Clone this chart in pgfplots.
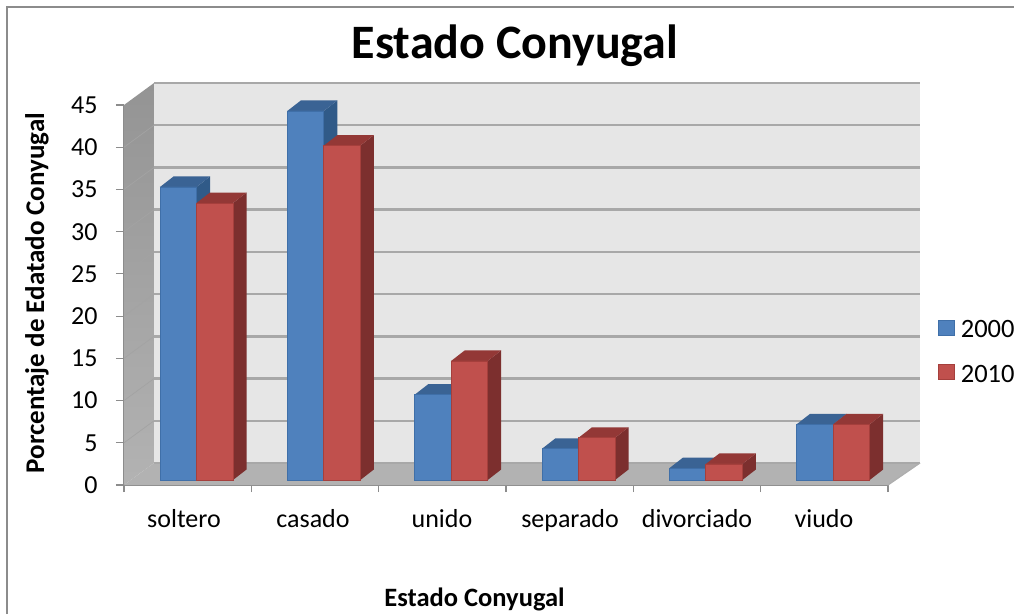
\documentclass[border=0pt]{standalone}
\usepackage{pgfplots}
\pgfplotsset{compat=1.18}
\usepackage{fontspec}
\setmainfont{Carlito}
\definecolor{bluefront}{HTML}{4F81BD}
\definecolor{blueedge}{HTML}{3F6FA8}
\definecolor{bluetop}{HTML}{3A6394}
\definecolor{blueside}{HTML}{305A88}
\definecolor{redfront}{HTML}{C0504D}
\definecolor{rededge}{HTML}{A53F3C}
\definecolor{redtop}{HTML}{933836}
\definecolor{redside}{HTML}{7C2F2E}
\definecolor{wall}{HTML}{E6E6E6}
\definecolor{floorc}{HTML}{B2B2B2}
\definecolor{gridc}{HTML}{A8A8A8}
\definecolor{axisc}{HTML}{8C8C8C}
\newcommand\faces[4]{%
  \pgfmathsetmacro\xb{#1+0.2867}%
  \pgfmathsetmacro\xc{#1+0.2867+0.106}%
  \pgfmathsetmacro\xd{#1+0.106}%
  \pgfmathsetmacro\ya{#2+0.592}%
  \pgfmathsetmacro\yt{#2+0.592+1.243}%
  \addplot[fill=#4,draw=none,forget plot] coordinates {(\xb,0.592)(\xc,1.835)(\xc,\yt)(\xb,\ya)} -- cycle;
  \addplot[fill=#3,draw=none,forget plot] coordinates {(#1,\ya)(\xd,\yt)(\xc,\yt)(\xb,\ya)} -- cycle;
}
\begin{document}
\begin{tikzpicture}[x=1pt,y=1pt]
\useasboundingbox (0,0) rectangle (1014,614);
\draw[axisc,line width=1.2pt] (7,0) -- (7,607) -- (1014,607);
\begin{axis}[
  at={(124pt,129pt)},anchor=south west,
  scale only axis,width=764pt,height=380pt,
  xmin=0,xmax=6,ymin=0,ymax=45,clip=false,
  axis x line*=bottom,axis y line*=left,
  axis line style={axisc,line width=1.2pt,-},
  tick align=outside,
  tick style={axisc,line width=1.2pt},
  ytick={0,5,...,45},
  major tick length=8pt,
  xtick={0.471,1.484,2.497,3.503,4.5,5.497},
  xticklabels={soltero,casado,unido,separado,divorciado,viudo},
  x tick style={draw=none},
  minor xtick={0,1,2,3,4,5,6},
  minor tick length=7pt,
  minor x tick style={draw=axisc,line width=1.2pt},
  /pgf/number format/assume math mode=true,
  tick label style={font=\fontsize{26}{30}\selectfont},
  yticklabel style={xshift=-15pt},
  xticklabel style={yshift=-13pt},
  title={\fontsize{48}{56}\selectfont\bfseries Estado Conyugal},
  title style={at={(axis description cs:0.5118,1.14)},anchor=center},
  xlabel={\fontsize{26.5}{31}\selectfont\bfseries Estado Conyugal},
  xlabel style={at={(axis description cs:0.4588,-0.3)},anchor=center},
  ylabel={\fontsize{27}{32}\selectfont\bfseries Porcentaje de Edatado Conyugal},
  ylabel style={at={(axis description cs:-0.1139,0.505)},anchor=center},
  legend style={at={(axis description cs:1.0655,0.35)},anchor=west,draw=none,fill=none,
    font=\fontsize{26.5}{31}\selectfont,row sep=24pt,inner sep=0pt,
    legend cell align=left,nodes={inner sep=1pt}},
  legend image code/.code={\path[#1,line width=1.2pt,draw] (0pt,-10.5pt) rectangle (16pt,4.5pt);\path[draw=none,fill=none] (0pt,0pt) -- (21pt,0pt);},
]
% side wall, back wall, floor
\addplot[top color=black!42,bottom color=black!30,draw=none,forget plot] coordinates {(0,0)(0.2356,2.605)(0.2356,47.605)(0,45)} -- cycle;
\addplot[fill=wall,draw=none,forget plot] coordinates {(0.2356,2.605)(6.2514,2.605)(6.2514,47.605)(0.2356,47.605)} -- cycle;
\addplot[fill=floorc,draw=none,forget plot] coordinates {(0,0)(0.2356,2.605)(6.2514,2.605)(6,0)} -- cycle;
% grid on the side wall and the back wall
\addplot[black!36,line width=0.7pt,forget plot,unbounded coords=jump] coordinates {
 (0,5)(0.2356,7.605)(nan,nan)(0,10)(0.2356,12.605)(nan,nan)(0,15)(0.2356,17.605)(nan,nan)
 (0,20)(0.2356,22.605)(nan,nan)(0,25)(0.2356,27.605)(nan,nan)(0,30)(0.2356,32.605)(nan,nan)
 (0,35)(0.2356,37.605)(nan,nan)(0,40)(0.2356,42.605)};
\addplot[gridc,line width=2.4pt,forget plot,unbounded coords=jump] coordinates {
 (0.2356,2.605)(6.2514,2.605)(nan,nan)
 (0.2356,7.605)(6.2514,7.605)(nan,nan)(0.2356,12.605)(6.2514,12.605)(nan,nan)
 (0.2356,17.605)(6.2514,17.605)(nan,nan)(0.2356,22.605)(6.2514,22.605)(nan,nan)
 (0.2356,27.605)(6.2514,27.605)(nan,nan)(0.2356,32.605)(6.2514,32.605)(nan,nan)
 (0.2356,37.605)(6.2514,37.605)(nan,nan)(0.2356,42.605)(6.2514,42.605)(nan,nan)
 (0.2356,47.605)(6.2514,47.605)};
\addplot[axisc!70,line width=1.2pt,forget plot] coordinates {(6,0)(6.2514,2.605)};
% series 2000
\faces{0.2827}{34.7}{bluetop}{blueside}
\faces{1.2827}{43.7}{bluetop}{blueside}
\faces{2.2827}{10.1}{bluetop}{blueside}
\faces{3.2827}{3.7}{bluetop}{blueside}
\faces{4.2827}{1.4}{bluetop}{blueside}
\faces{5.2827}{6.6}{bluetop}{blueside}
\addplot[ybar,bar width=36.5pt,bar shift=-18.25pt,yshift=5pt,fill=bluefront,draw=blueedge,line width=0.8pt]
  coordinates {(0.5694,34.7)(1.5694,43.7)(2.5694,10.1)(3.5694,3.7)(4.5694,1.4)(5.5694,6.6)};
\addlegendentry{2000}
% series 2010
\faces{0.5694}{32.8}{redtop}{redside}
\faces{1.5694}{39.6}{redtop}{redside}
\faces{2.5694}{14.1}{redtop}{redside}
\faces{3.5694}{5.0}{redtop}{redside}
\faces{4.5694}{1.9}{redtop}{redside}
\faces{5.5694}{6.6}{redtop}{redside}
\addplot[ybar,bar width=36.5pt,bar shift=18.25pt,yshift=5pt,fill=redfront,draw=rededge,line width=0.8pt]
  coordinates {(0.5694,32.8)(1.5694,39.6)(2.5694,14.1)(3.5694,5.0)(4.5694,1.9)(5.5694,6.6)};
\addlegendentry{2010}
\end{axis}
\end{tikzpicture}
\end{document}
